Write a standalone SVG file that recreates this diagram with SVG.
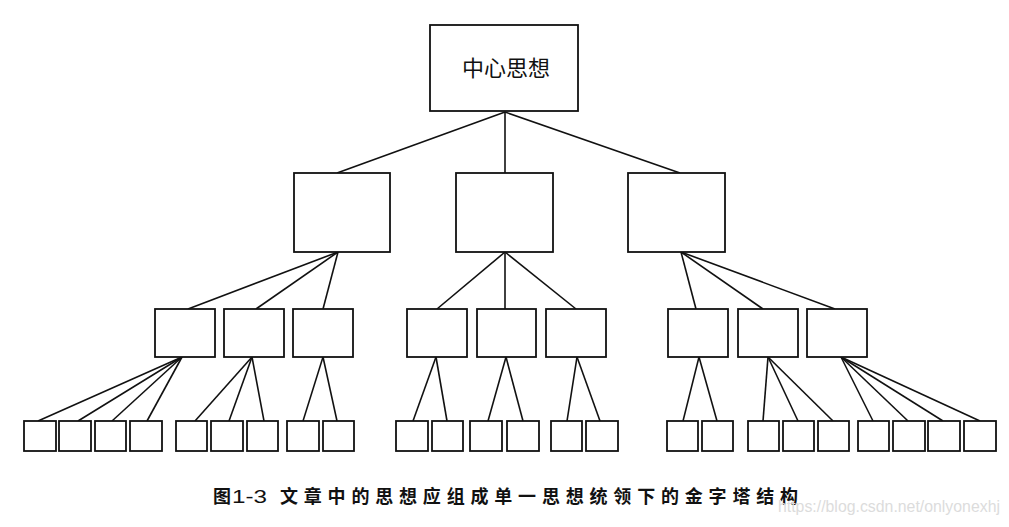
<svg xmlns="http://www.w3.org/2000/svg" width="1009" height="527" viewBox="0 0 1009 527">
<style>
.b{fill:#fff;stroke:#111;stroke-width:1.8}
.c line{stroke:#111;stroke-width:1.6}
.t{font-family:"Noto Sans CJK SC","Noto Sans",sans-serif;fill:#111}
</style>
<rect width="1009" height="527" fill="#fff"/>
<g id="connectors" class="c">
<line x1="505" y1="112" x2="337" y2="173"/>
<line x1="505" y1="112" x2="505" y2="173"/>
<line x1="505" y1="112" x2="680" y2="173"/>
<line x1="338" y1="252" x2="188" y2="309"/>
<line x1="338" y1="252" x2="256" y2="309"/>
<line x1="338" y1="252" x2="323" y2="309"/>
<line x1="505" y1="252" x2="437" y2="309"/>
<line x1="505" y1="252" x2="505" y2="309"/>
<line x1="505" y1="252" x2="576" y2="309"/>
<line x1="681" y1="252" x2="696" y2="309"/>
<line x1="681" y1="252" x2="763" y2="309"/>
<line x1="681" y1="252" x2="835" y2="309"/>
<line x1="182" y1="357" x2="38" y2="421"/>
<line x1="182" y1="357" x2="78" y2="421"/>
<line x1="182" y1="357" x2="112" y2="421"/>
<line x1="182" y1="357" x2="147" y2="421"/>
<line x1="252" y1="357" x2="195" y2="421"/>
<line x1="252" y1="357" x2="229" y2="421"/>
<line x1="252" y1="357" x2="264" y2="421"/>
<line x1="323" y1="357" x2="303" y2="421"/>
<line x1="323" y1="357" x2="337" y2="421"/>
<line x1="436" y1="357" x2="413" y2="421"/>
<line x1="436" y1="357" x2="447" y2="421"/>
<line x1="506" y1="357" x2="488" y2="421"/>
<line x1="506" y1="357" x2="523" y2="421"/>
<line x1="577" y1="357" x2="567" y2="421"/>
<line x1="577" y1="357" x2="600" y2="421"/>
<line x1="699" y1="357" x2="683" y2="421"/>
<line x1="699" y1="357" x2="717" y2="421"/>
<line x1="768" y1="357" x2="763" y2="421"/>
<line x1="768" y1="357" x2="798" y2="421"/>
<line x1="768" y1="357" x2="833" y2="421"/>
<line x1="841" y1="357" x2="873" y2="421"/>
<line x1="841" y1="357" x2="908" y2="421"/>
<line x1="841" y1="357" x2="943" y2="421"/>
<line x1="841" y1="357" x2="980" y2="421"/>
</g>
<g id="root"><rect class="b" x="430" y="25" width="148" height="86"/><text class="t" x="506" y="76" font-size="22" text-anchor="middle">中心思想</text></g>
<g id="l2-1"><rect class="b" x="294" y="173" width="96" height="79"/></g>
<g id="l2-2"><rect class="b" x="456" y="173" width="97" height="79"/></g>
<g id="l2-3"><rect class="b" x="628" y="173" width="97" height="79"/></g>
<g id="l3-1"><rect class="b" x="155" y="309" width="60" height="48"/></g>
<g id="l3-2"><rect class="b" x="224" y="309" width="60" height="48"/></g>
<g id="l3-3"><rect class="b" x="293" y="309" width="60" height="48"/></g>
<g id="l3-4"><rect class="b" x="407" y="309" width="60" height="48"/></g>
<g id="l3-5"><rect class="b" x="477" y="309" width="59" height="48"/></g>
<g id="l3-6"><rect class="b" x="546" y="309" width="60" height="48"/></g>
<g id="l3-7"><rect class="b" x="668" y="309" width="60" height="48"/></g>
<g id="l3-8"><rect class="b" x="738" y="309" width="60" height="48"/></g>
<g id="l3-9"><rect class="b" x="807" y="309" width="60" height="48"/></g>
<g id="l4-1"><rect class="b" x="24" y="421" width="32" height="30"/></g>
<g id="l4-2"><rect class="b" x="59" y="421" width="32" height="30"/></g>
<g id="l4-3"><rect class="b" x="95" y="421" width="31" height="30"/></g>
<g id="l4-4"><rect class="b" x="130" y="421" width="32" height="30"/></g>
<g id="l4-5"><rect class="b" x="176" y="421" width="31" height="30"/></g>
<g id="l4-6"><rect class="b" x="211" y="421" width="32" height="30"/></g>
<g id="l4-7"><rect class="b" x="247" y="421" width="31" height="30"/></g>
<g id="l4-8"><rect class="b" x="287" y="421" width="32" height="30"/></g>
<g id="l4-9"><rect class="b" x="323" y="421" width="31" height="30"/></g>
<g id="l4-10"><rect class="b" x="396" y="421" width="32" height="30"/></g>
<g id="l4-11"><rect class="b" x="432" y="421" width="31" height="30"/></g>
<g id="l4-12"><rect class="b" x="470" y="421" width="32" height="30"/></g>
<g id="l4-13"><rect class="b" x="507" y="421" width="32" height="30"/></g>
<g id="l4-14"><rect class="b" x="551" y="421" width="31" height="30"/></g>
<g id="l4-15"><rect class="b" x="586" y="421" width="32" height="30"/></g>
<g id="l4-16"><rect class="b" x="667" y="421" width="31" height="30"/></g>
<g id="l4-17"><rect class="b" x="702" y="421" width="31" height="30"/></g>
<g id="l4-18"><rect class="b" x="748" y="421" width="31" height="30"/></g>
<g id="l4-19"><rect class="b" x="783" y="421" width="31" height="30"/></g>
<g id="l4-20"><rect class="b" x="818" y="421" width="31" height="30"/></g>
<g id="l4-21"><rect class="b" x="858" y="421" width="31" height="30"/></g>
<g id="l4-22"><rect class="b" x="893" y="421" width="32" height="30"/></g>
<g id="l4-23"><rect class="b" x="928" y="421" width="32" height="30"/></g>
<g id="l4-24"><rect class="b" x="964" y="421" width="32" height="30"/></g>
<g id="caption">
<text class="t" x="213" y="503" font-size="18" font-weight="bold">图</text>
<text x="232" y="503" font-size="18" font-family="'Liberation Sans',sans-serif" fill="#111" textLength="35" lengthAdjust="spacingAndGlyphs">1-3</text>
<text class="t" x="280" y="503" font-size="18" font-weight="bold" textLength="518" lengthAdjust="spacing">文章中的思想应组成单一思想统领下的金字塔结构</text>
</g>
<text x="778" y="512" font-size="17" font-family="'Liberation Sans',sans-serif" fill="#dcdcdc" textLength="222" lengthAdjust="spacingAndGlyphs">https://blog.csdn.net/onlyonexhj</text>
</svg>
